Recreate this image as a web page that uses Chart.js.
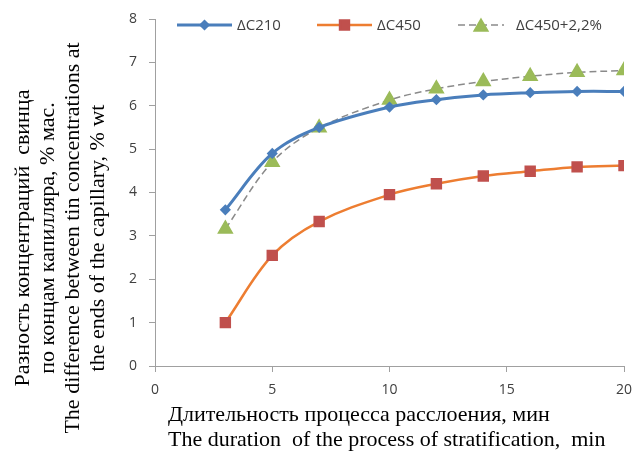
<!DOCTYPE html>
<html>
<head>
<meta charset="utf-8">
<script src="https://cdn.jsdelivr.net/npm/chart.js@4.4.1/dist/chart.umd.min.js"></script>
<style>
  html, body { margin: 0; padding: 0; background: #fff; }
  #wrap { width: 635px; height: 461px; position: relative; }
</style>
</head>
<body>
<div id="wrap"><canvas id="chart"></canvas></div>
<script>
'use strict';

// duration of stratification, min
var durations = [3, 5, 7, 10, 12, 14, 16, 18, 20];
var dC210 = [3.6, 4.9, 5.5, 5.97, 6.14, 6.25, 6.30, 6.33, 6.33];
var dC450 = [1.0, 2.55, 3.33, 3.95, 4.2, 4.38, 4.49, 4.59, 4.62];
var dC450plus = [3.16, 4.70, 5.49, 6.13, 6.39, 6.56, 6.68, 6.77, 6.81];
var seriesNames = ['\u0394C210', '\u0394C450', '\u0394C450+2,2%'];
var xTicks = [0, 5, 10, 15, 20];
var yTicks = [0, 1, 2, 3, 4, 5, 6, 7, 8];

var yTitle = [
  'Разность концентраций  свинца',
  'по концам капилляра, % мас.',
  'The difference between tin concentrations at',
  'the ends of the capillary, % wt'
];
var xTitle = [
  'Длительность процесса расслоения, мин',
  'The duration  of the process of stratification,  min'
];

function pts(ys) {
  return durations.map(function (x, i) { return { x: x, y: ys[i] }; });
}

var AXIS = '#a0a0a0';
var TICK_FONT = { family: '"Open Sans", "DejaVu Sans", sans-serif', size: 14 };
var TITLE_FONT = '22px "Liberation Serif", "Times New Roman", serif';

// axis titles + Excel-like legend (line with marker)
var decor = {
  id: 'decor',
  afterDraw: function (chart) {
    var ctx = chart.ctx;
    ctx.save();
    ctx.fillStyle = '#000';
    ctx.font = TITLE_FONT;
    ctx.textBaseline = 'middle';
    ctx.textAlign = 'center';
    ctx.translate(0, 238);
    ctx.rotate(-Math.PI / 2);
    yTitle.forEach(function (t, i) {
      ctx.fillText(t, 0, 23 + i * 25);
    });
    ctx.restore();

    ctx.save();
    ctx.fillStyle = '#000';
    ctx.font = TITLE_FONT;
    ctx.textBaseline = 'middle';
    ctx.textAlign = 'left';
    xTitle.forEach(function (t, i) {
      ctx.fillText(t, 168, 415 + i * 25);
    });
    ctx.restore();

    // legend
    var items = [
      { x: 177, text: 237 },
      { x: 317, text: 377 },
      { x: 458, text: 516 }
    ];
    var y = 25;
    ctx.save();
    chart.data.datasets.forEach(function (ds, i) {
      var it = items[i];
      var w = i === 2 ? 46 : 55;
      ctx.strokeStyle = ds.borderColor;
      ctx.lineWidth = ds.borderWidth;
      ctx.setLineDash(ds.borderDash || []);
      ctx.beginPath();
      ctx.moveTo(it.x, y);
      ctx.lineTo(it.x + w, y);
      ctx.stroke();
      ctx.setLineDash([]);
      ctx.fillStyle = ds.pointBackgroundColor;
      ctx.strokeStyle = ds.pointBorderColor;
      Chart.helpers.drawPoint(ctx, {
        pointStyle: ds.pointStyle,
        radius: ds.pointRadius,
        borderWidth: 1,
        rotation: 0
      }, it.x + w / 2, y + (ds.pointStyle === 'triangle' ? 2 : 0));
      ctx.fillStyle = '#404040';
      ctx.font = '15px "Open Sans", "DejaVu Sans", sans-serif';
      ctx.textAlign = 'left';
      ctx.textBaseline = 'middle';
      ctx.fillText(ds.label, it.text, y + 1);
    });
    ctx.restore();
  }
};

new Chart(document.getElementById('chart'), {
  type: 'line',
  data: {
    datasets: [{
      label: seriesNames[0],
      data: pts(dC210),
      borderColor: '#4a7ebb',
      borderWidth: 3,
      tension: 0.35,
      pointStyle: 'rectRot',
      pointRadius: 3.5,
      pointBackgroundColor: '#4a7ebb',
      pointBorderColor: '#4a7ebb'
    }, {
      label: seriesNames[1],
      data: pts(dC450),
      borderColor: '#ed7d31',
      borderWidth: 2.5,
      tension: 0.35,
      pointStyle: 'rect',
      pointRadius: 6.3,
      pointBackgroundColor: '#c0504d',
      pointBorderColor: '#c0504d'
    }, {
      label: seriesNames[2],
      data: pts(dC450plus),
      borderColor: '#8a8a8a',
      borderWidth: 1.5,
      borderDash: [7, 4],
      tension: 0.35,
      pointStyle: 'triangle',
      pointRadius: 8,
      pointBackgroundColor: '#9bbb59',
      pointBorderColor: '#9bbb59'
    }]
  },
  options: {
    responsive: true,
    maintainAspectRatio: false,
    animation: false,
    layout: { padding: { left: 0, top: 19, right: 11, bottom: 0 } },
    plugins: {
      legend: { display: false },
      tooltip: { enabled: false }
    },
    scales: {
      x: {
        type: 'linear',
        min: 0,
        max: 20,
        afterBuildTicks: function (s) { s.ticks = xTicks.map(function (v) { return { value: v }; }); },
        grid: { display: true, drawOnChartArea: false, color: AXIS, tickLength: 6 },
        border: { color: AXIS, width: 1 },
        ticks: { color: '#404040', font: TICK_FONT, padding: 10, maxRotation: 0 },
        afterFit: function (s) {
          s.height = 95;
          s.paddingLeft = 0;
          s.paddingRight = 0;
        }
      },
      y: {
        min: 0,
        max: 8,
        afterBuildTicks: function (s) { s.ticks = yTicks.map(function (v) { return { value: v }; }); },
        grid: { display: true, drawOnChartArea: false, color: AXIS, tickLength: 6 },
        border: { color: AXIS, width: 1 },
        ticks: { color: '#404040', font: TICK_FONT, padding: 12 },
        afterFit: function (s) {
          s.width = 155;
          s.paddingTop = 0;
          s.paddingBottom = 0;
        }
      }
    }
  },
  plugins: [decor]
});
</script>
</body>
</html>
